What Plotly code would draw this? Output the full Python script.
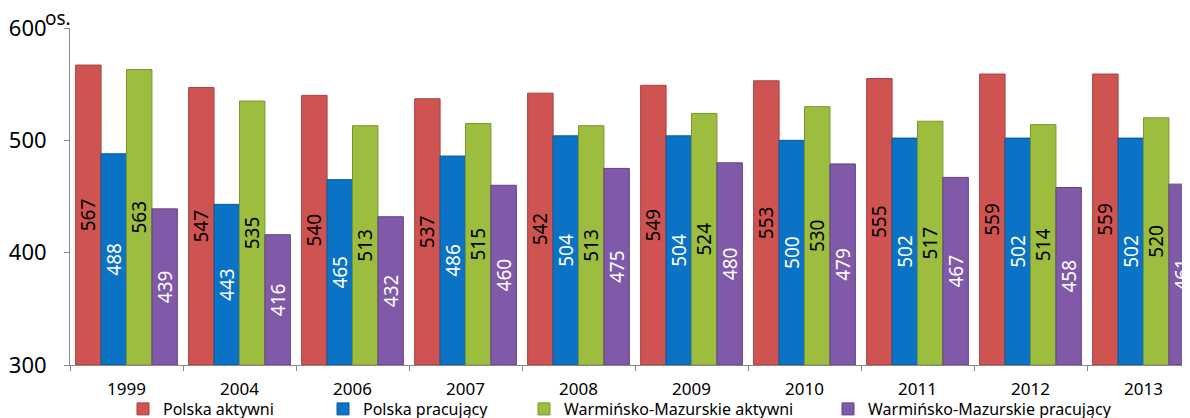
import plotly.graph_objects as go

years = ["1999", "2004", "2006", "2007", "2008", "2009", "2010", "2011", "2012", "2013"]
series_names = ["Polska aktywni", "Polska pracujący", "Warmińsko-Mazurskie aktywni", "Warmińsko-Mazurskie pracujący"]
polska_aktywni = [567, 547, 540, 537, 542, 549, 553, 555, 559, 559]
polska_pracujacy = [488, 443, 465, 486, 504, 504, 500, 502, 502, 502]
wm_aktywni = [563, 535, 513, 515, 513, 524, 530, 517, 514, 520]
wm_pracujacy = [439, 416, 432, 460, 475, 480, 479, 467, 458, 461]
y_ticks = [300, 400, 500, 600]
unit_label = "os."

series = [polska_aktywni, polska_pracujacy, wm_aktywni, wm_pracujacy]
colors = ["#CF5351", "#0A73C6", "#9CBD3E", "#8059A8"]
line_colors = ["#A8403E", "#07599A", "#7A9530", "#634384"]
text_colors = ["black", "white", "black", "white"]
legend_ids = ["legend", "legend2", "legend3", "legend4"]
legend_px = [143, 343, 544, 848]   # swatch centres on the page

FONT = "Noto Sans"
OFF = 8            # default page body margin that shifts the figure
W, H = 1192, 418   # plot area runs just past the window edge, like the reference
BASE = y_ticks[0]  # axis floor: bars are drawn from here so labels centre on the visible part

fig = go.Figure()
for name, vals, c, lc, tc, lid in zip(series_names, series, colors, line_colors, text_colors, legend_ids):
    fig.add_trace(go.Bar(
        x=years, y=[v - BASE for v in vals], base=BASE, name=name,
        marker=dict(color=c, line=dict(color=lc, width=1)),
        text=[str(v) for v in vals],
        textposition="inside", insidetextanchor="middle", textangle=-90,
        constraintext="none",
        textfont=dict(family=FONT, size=19, color=tc),
        cliponaxis=True,
        legend=lid,
    ))

layout_legends = {}
for lid, px in zip(legend_ids, legend_px):
    layout_legends[lid] = dict(
        orientation="h", xref="container", yref="container",
        x=(px - OFF - 20) / W, xanchor="left", y=(H - (409 - OFF)) / H, yanchor="middle",
        font=dict(family=FONT, size=16, color="black"),
        bgcolor="rgba(0,0,0,0)", borderwidth=0,
    )

fig.update_layout(
    width=W, height=H,
    margin=dict(l=70 - OFF, r=0, t=28 - OFF, b=H - (365 - OFF), autoexpand=False),
    barmode="group", bargap=0.1, bargroupgap=0,
    plot_bgcolor="white", paper_bgcolor="white",
    font=dict(family=FONT, color="black"),
    xaxis=dict(
        type="category", range=[-0.5, 9.5], automargin=False,
        showline=True, linecolor="#898989", linewidth=1,
        ticks="outside", tickson="boundaries", ticklen=5, tickcolor="#898989",
        tickfont=dict(family=FONT, size=17, color="black"),
        ticklabelstandoff=9, showgrid=False,
    ),
    yaxis=dict(
        range=[300, 600], tickvals=y_ticks, automargin=False,
        showline=True, linecolor="#898989", linewidth=1,
        ticks="outside", ticklen=5, tickcolor="#898989",
        tickfont=dict(family=FONT, size=22, color="black"),
        ticklabelstandoff=13, showgrid=False, zeroline=False,
    ),
    showlegend=True,
    annotations=[dict(
        text=unit_label, xref="paper", yref="paper", x=0, y=1,
        xanchor="right", yanchor="middle", xshift=3, yshift=10,
        showarrow=False, font=dict(family=FONT, size=19, color="black"),
    )],
    **layout_legends,
)

fig.write_html("out.html")
